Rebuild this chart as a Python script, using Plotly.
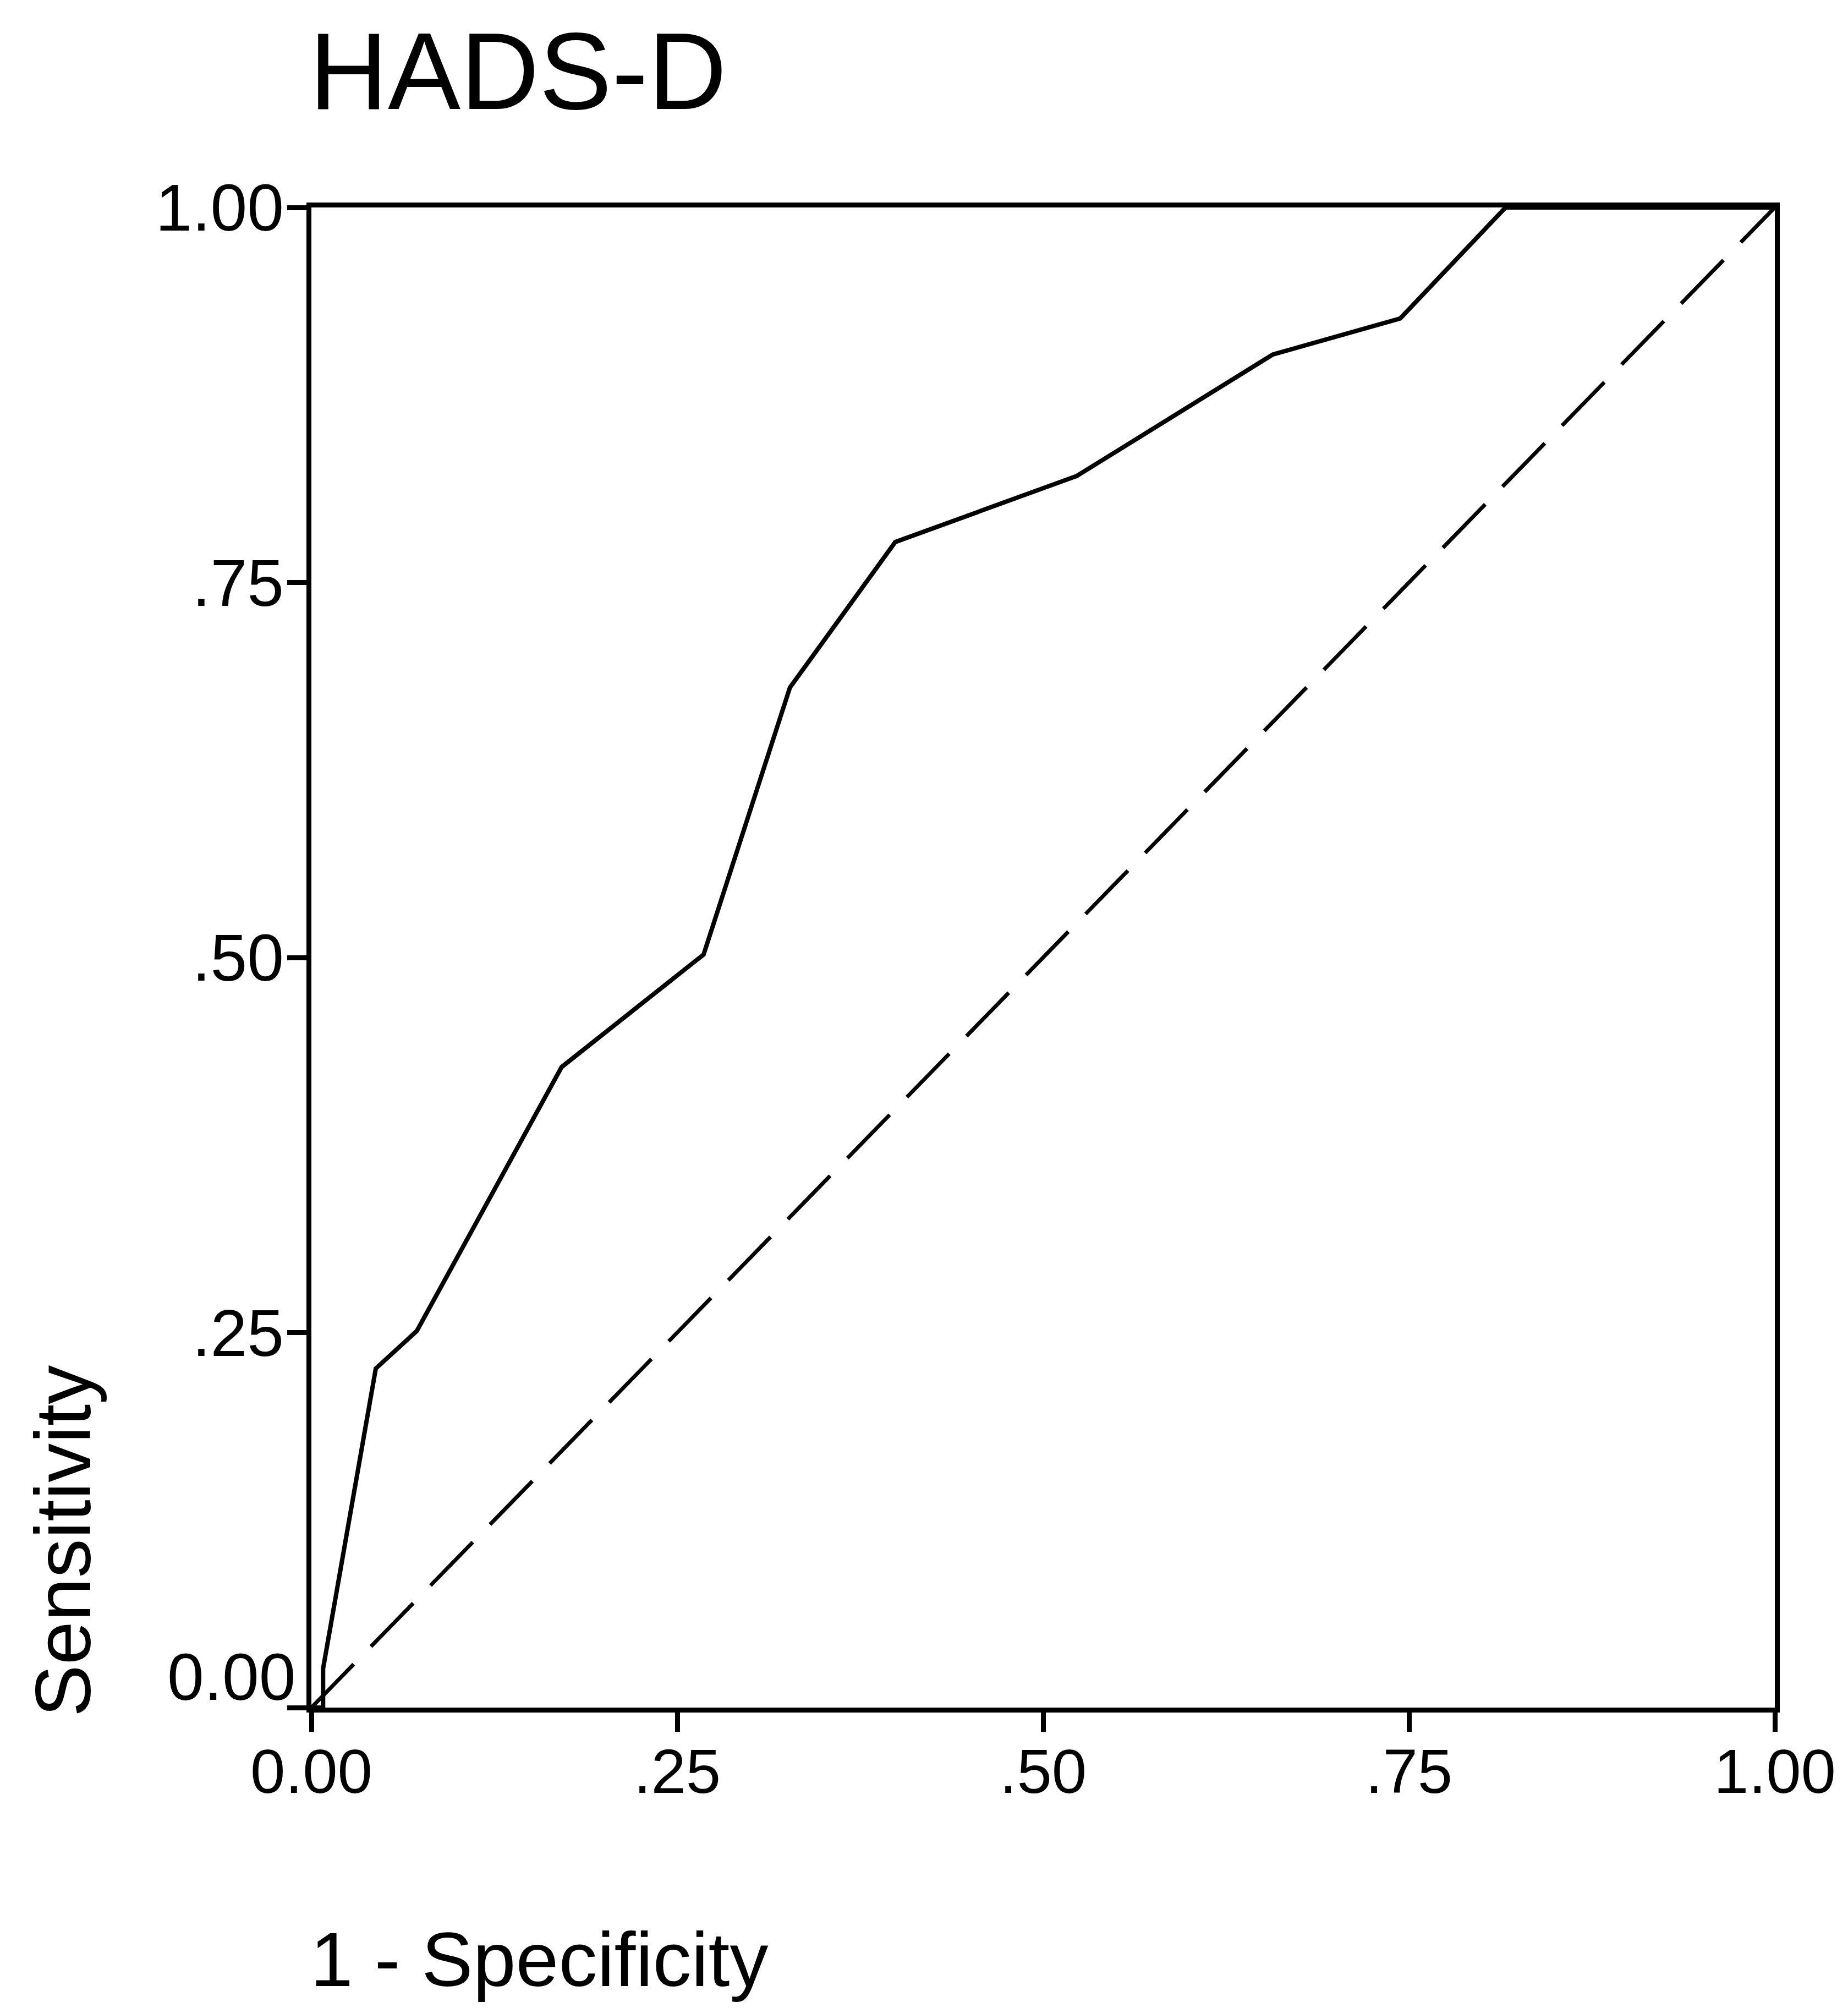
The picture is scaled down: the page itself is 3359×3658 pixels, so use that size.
import plotly.graph_objects as go

# ROC curve for HADS-D (1 - specificity vs sensitivity)
fpr = [0.0, 0.008, 0.008, 0.044, 0.072, 0.171, 0.268, 0.327, 0.399, 0.523, 0.657, 0.744, 0.816, 1.0]
tpr = [0.0, 0.0, 0.026, 0.226, 0.251, 0.427, 0.502, 0.680, 0.777, 0.821, 0.902, 0.926, 1.0, 1.0]

# Reference line of no discrimination
ref_x = [0.0, 1.0]
ref_y = [0.0, 1.0]

tick_vals = [0.0, 0.25, 0.5, 0.75, 1.0]
x_tick_text = ["0.00", ".25", ".50", ".75", "1.00"]
y_tick_text = ["", ".25", ".50", ".75", "1.00"]

W, H = 3359, 3658
L, R, T, B = 566, 133, 377, 555
FONT = "Liberation Sans, Arial, sans-serif"

fig = go.Figure()
fig.add_trace(go.Scatter(x=ref_x, y=ref_y, mode="lines",
                         line=dict(color="black", width=7, dash="110px,45px"),
                         hoverinfo="skip", showlegend=False))
fig.add_trace(go.Scatter(x=fpr, y=tpr, mode="lines",
                         line=dict(color="black", width=8),
                         showlegend=False))

axis_common = dict(range=[0, 1], showgrid=False, zeroline=False,
                   showline=True, linecolor="black", linewidth=9, mirror=True,
                   ticks="outside", ticklen=35, tickwidth=9, tickcolor="black",
                   tickvals=tick_vals)

fig.update_xaxes(ticktext=x_tick_text, ticklabelstandoff=-26,
                 tickfont=dict(family=FONT, size=114, color="black"), **axis_common)
fig.update_yaxes(ticktext=y_tick_text, ticklabelstandoff=-18,
                 tickfont=dict(family=FONT, size=120, color="black"), **axis_common)

pw, ph = W - L - R, H - T - B

def px_x(X):
    return (X - L) / pw

def px_y(Y):
    return (H - B - Y) / ph

fig.update_layout(
    width=W, height=H,
    margin=dict(l=L, r=R, t=T, b=B, pad=0),
    paper_bgcolor="white", plot_bgcolor="white",
    font=dict(family=FONT, color="black"),
    annotations=[
        dict(text="HADS-D", xref="paper", yref="paper", x=px_x(560), y=px_y(130),
             xanchor="left", yanchor="middle", showarrow=False,
             font=dict(size=198, family=FONT, color="black")),
        dict(text="Sensitivity", xref="paper", yref="paper", x=px_x(114), y=px_y(2800),
             xanchor="center", yanchor="middle", textangle=-90, showarrow=False,
             font=dict(size=142, family=FONT, color="black")),
        dict(text="1 - Specificity", xref="paper", yref="paper", x=px_x(562), y=px_y(3560),
             xanchor="left", yanchor="middle", showarrow=False,
             font=dict(size=140, family=FONT, color="black")),
        dict(text="0.00", xref="paper", yref="paper", x=px_x(540), y=px_y(3047),
             xanchor="right", yanchor="middle", showarrow=False,
             font=dict(size=120, family=FONT, color="black")),
    ],
)

fig.write_html("out.html")
